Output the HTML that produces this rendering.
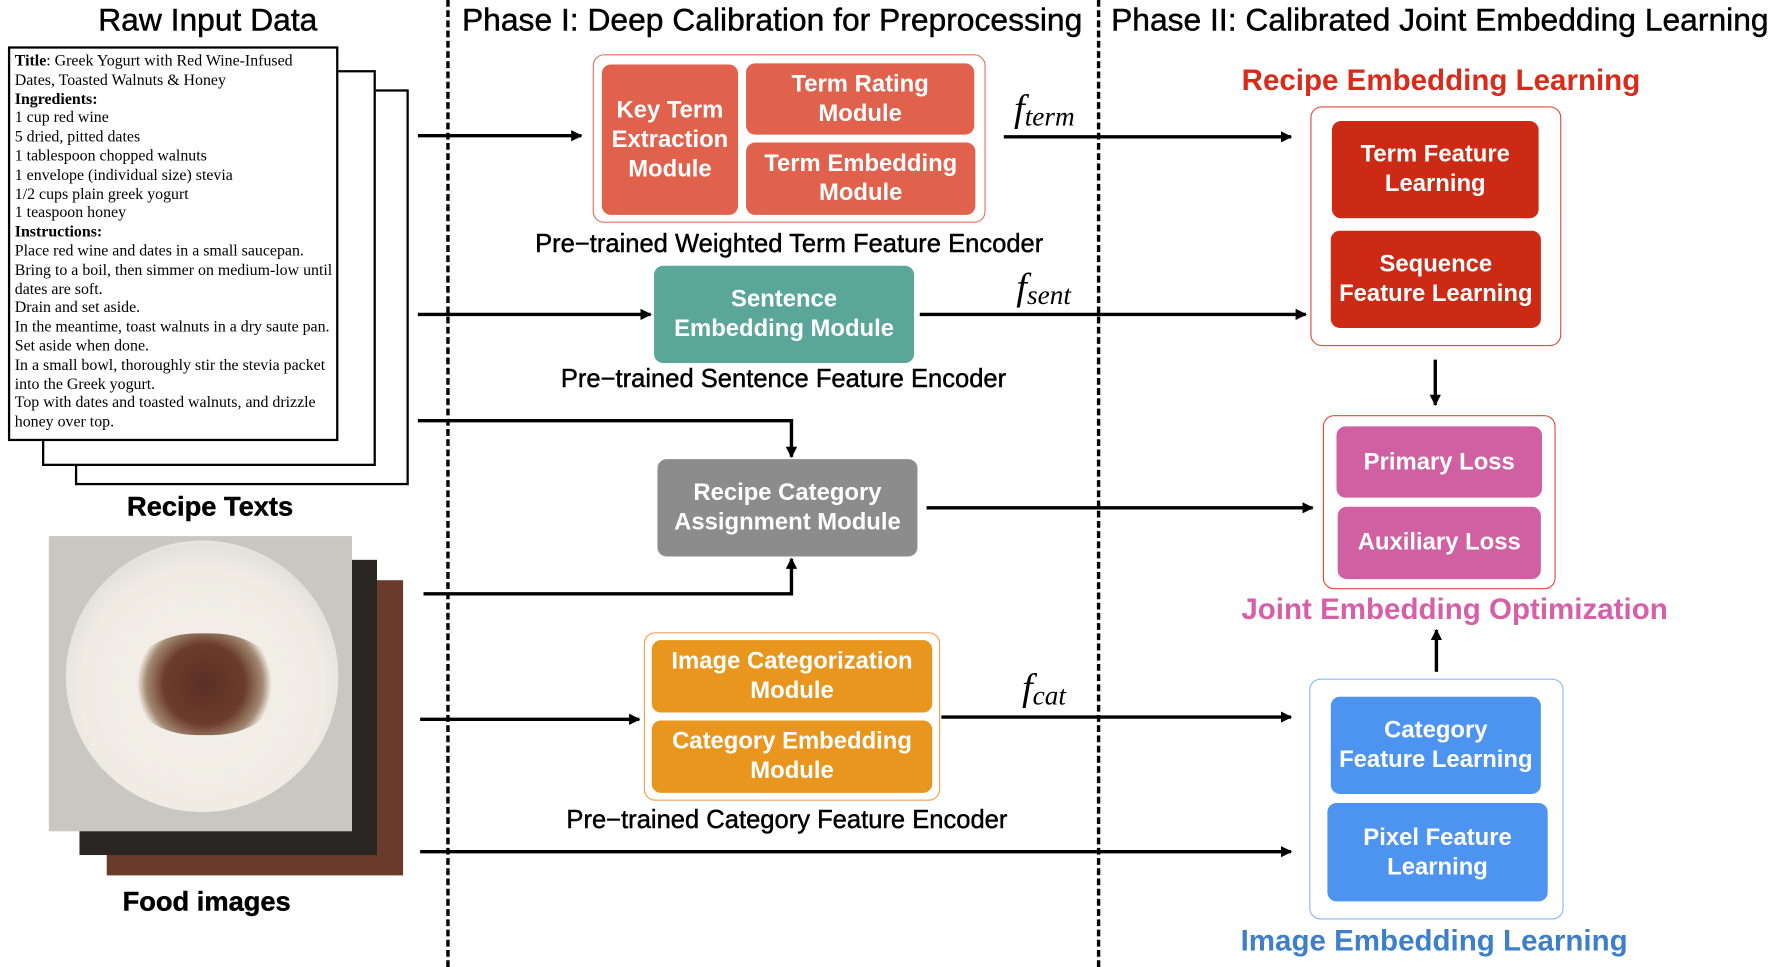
<!DOCTYPE html>
<html><head><meta charset="utf-8"><style>
body{margin:0;width:1777px;height:967px;overflow:hidden;background:#fff;}
#w{position:absolute;left:0;top:0;width:1565px;height:855px;transform:scale(1.1355,1.131);transform-origin:0 0;font-family:"Liberation Sans",sans-serif;}
.a{position:absolute;}
.h{position:absolute;font-size:28px;color:#000;white-space:nowrap;transform:translate(-50%,-50%);-webkit-text-stroke:0.4px #000;}
.b{position:absolute;display:flex;align-items:center;justify-content:center;text-align:center;color:#fff;font-weight:bold;font-size:21px;line-height:26px;border-radius:8px;}
.g{position:absolute;border-radius:10px;background:#fff;}
.c{position:absolute;font-size:22.5px;white-space:nowrap;transform:translate(-50%,-50%);-webkit-text-stroke:0.4px #000;}
.paper{position:absolute;border:2px solid #000;background:#fff;}
.f{position:absolute;font-family:"Liberation Serif",serif;font-style:italic;font-size:34px;}
.f sub{font-size:24px;vertical-align:-4px;}
</style></head><body><div id="w">
<div class="h" style="left:183px;top:18px">Raw Input Data</div>
<div class="h" style="left:680px;top:18px">Phase I: Deep Calibration for Preprocessing</div>
<div class="h" style="left:1268px;top:18px">Phase II: Calibrated Joint Embedding Learning</div>
<div class="a" style="left:393px;top:0;height:855px;border-left:3px dashed #000"></div>
<div class="a" style="left:966px;top:0;height:855px;border-left:3px dashed #000"></div>

<div class="paper" style="left:66px;top:79px;width:290px;height:346px"></div>
<div class="paper" style="left:37px;top:62px;width:290px;height:346px"></div>
<div class="paper" style="left:7px;top:41px;width:291px;height:349px;font-family:'Liberation Serif',serif;font-size:14px;line-height:16.8px;padding:4px 0 0 4px;box-sizing:border-box;white-space:nowrap;overflow:hidden">
<b>Title</b>: Greek Yogurt with Red Wine-Infused<br>Dates, Toasted Walnuts &amp; Honey<br><b>Ingredients:</b><br>1 cup red wine<br>5 dried, pitted dates<br>1 tablespoon chopped walnuts<br>1 envelope (individual size) stevia<br>1/2 cups plain greek yogurt<br>1 teaspoon honey<br><b>Instructions:</b><br>Place red wine and dates in a small saucepan.<br>Bring to a boil, then simmer on medium-low until<br>dates are soft.<br>Drain and set aside.<br>In the meantime, toast walnuts in a dry saute pan.<br>Set aside when done.<br>In a small bowl, thoroughly stir the stevia packet<br>into the Greek yogurt.<br>Top with dates and toasted walnuts, and drizzle<br>honey over top.</div>
<div class="h" style="left:185px;top:449px;font-size:24px;font-weight:bold">Recipe Texts</div>

<div class="a" style="left:94px;top:513px;width:261px;height:261px;background:#6a3a2a"></div>
<div class="a" style="left:70px;top:495px;width:262px;height:261px;background:#2a2624"></div>
<div class="a" style="left:43px;top:474px;width:267px;height:261px;background:#c9c7c2"></div>
<div class="a" style="left:58px;top:478px;width:240px;height:240px;border-radius:50%;background:radial-gradient(circle at 50% 55%,#f4f1ea 0,#f0ece4 60%,#e4e1dc 72%,#fafafa 80%,#d8d6d2 100%)"></div>
<div class="a" style="left:115px;top:560px;width:130px;height:90px;border-radius:45%;background:radial-gradient(circle,#5a2f25 0,#6b3c2a 45%,rgba(110,70,40,0.6) 65%,rgba(255,255,255,0) 75%)"></div>
<div class="h" style="left:182px;top:798px;font-size:24px;font-weight:bold">Food images</div>

<svg class="a" style="left:0;top:0" width="1565" height="855">
<defs><marker id="m" markerWidth="10" markerHeight="10" refX="9" refY="5" orient="auto" markerUnits="userSpaceOnUse"><path d="M0,0 L10,5 L0,10 z" fill="#000"/></marker></defs>
<g stroke="#000" stroke-width="3" fill="none" marker-end="url(#m)">
<line x1="368" y1="120" x2="512" y2="120"/>
<line x1="884" y1="121" x2="1137" y2="121"/>
<line x1="368" y1="278" x2="573" y2="278"/>
<line x1="810" y1="278" x2="1150" y2="278"/>
<polyline points="368,372 697,372 697,404"/>
<polyline points="373,525 697,525 697,494"/>
<line x1="816" y1="449" x2="1156" y2="449"/>
<line x1="370" y1="636" x2="563" y2="636"/>
<line x1="829" y1="634" x2="1137" y2="634"/>
<line x1="370" y1="753" x2="1137" y2="753"/>
<line x1="1264" y1="318" x2="1264" y2="358"/>
<line x1="1265" y1="594" x2="1265" y2="557"/>
</g></svg>

<div class="g" style="left:522px;top:48px;width:344px;height:147px;border:1.5px solid #e8705c"></div>
<div class="b" style="left:530px;top:57px;width:120px;height:133px;background:#e0624d">Key Term<br>Extraction<br>Module</div>
<div class="b" style="left:657px;top:56px;width:201px;height:63px;background:#e0624d">Term Rating<br>Module</div>
<div class="b" style="left:657px;top:126px;width:202px;height:64px;background:#e0624d">Term Embedding<br>Module</div>
<div class="c" style="left:695px;top:216px">Pre−trained Weighted Term Feature Encoder</div>
<div class="f" style="left:893px;top:78px">f<sub>term</sub></div>

<div class="b" style="left:576px;top:235px;width:229px;height:86px;background:#5aa799">Sentence<br>Embedding Module</div>
<div class="c" style="left:690px;top:335px">Pre−trained Sentence Feature Encoder</div>
<div class="f" style="left:895px;top:236px">f<sub>sent</sub></div>

<div class="b" style="left:579px;top:406px;width:229px;height:86px;background:#8c8c8c">Recipe Category<br>Assignment Module</div>

<div class="g" style="left:567px;top:559px;width:259px;height:147px;border:1.5px solid #f0a050"></div>
<div class="b" style="left:574px;top:566px;width:247px;height:64px;background:#e8961e">Image Categorization<br>Module</div>
<div class="b" style="left:574px;top:637px;width:247px;height:64px;background:#e8961e">Category Embedding<br>Module</div>
<div class="c" style="left:693px;top:725px">Pre−trained Category Feature Encoder</div>
<div class="f" style="left:900px;top:590px">f<sub>cat</sub></div>

<div class="h" style="left:1269px;top:71px;color:#d92b1a;font-size:26px;font-weight:bold;-webkit-text-stroke:0">Recipe Embedding Learning</div>
<div class="g" style="left:1154px;top:94px;width:219px;height:210px;border:1.5px solid #e24a3a"></div>
<div class="b" style="left:1173px;top:107px;width:182px;height:86px;background:#cc2a14">Term Feature<br>Learning</div>
<div class="b" style="left:1172px;top:204px;width:185px;height:86px;background:#cc2a14">Sequence<br>Feature Learning</div>

<div class="g" style="left:1165px;top:367px;width:203px;height:152px;border:1.5px solid #e24a3a"></div>
<div class="b" style="left:1177px;top:377px;width:181px;height:63px;background:#d060a2">Primary Loss</div>
<div class="b" style="left:1178px;top:448px;width:179px;height:64px;background:#d060a2">Auxiliary Loss</div>
<div class="h" style="left:1281px;top:539px;color:#d660a8;font-size:26px;font-weight:bold;-webkit-text-stroke:0">Joint Embedding Optimization</div>

<div class="g" style="left:1153px;top:600px;width:222px;height:211px;border:1.5px solid #8bb8f0"></div>
<div class="b" style="left:1172px;top:616px;width:185px;height:86px;background:#4d94f0">Category<br>Feature Learning</div>
<div class="b" style="left:1169px;top:710px;width:194px;height:87px;background:#4d94f0">Pixel Feature<br>Learning</div>
<div class="h" style="left:1263px;top:832px;color:#3e7fc9;font-size:26px;font-weight:bold;-webkit-text-stroke:0">Image Embedding Learning</div>
</div></body></html>
